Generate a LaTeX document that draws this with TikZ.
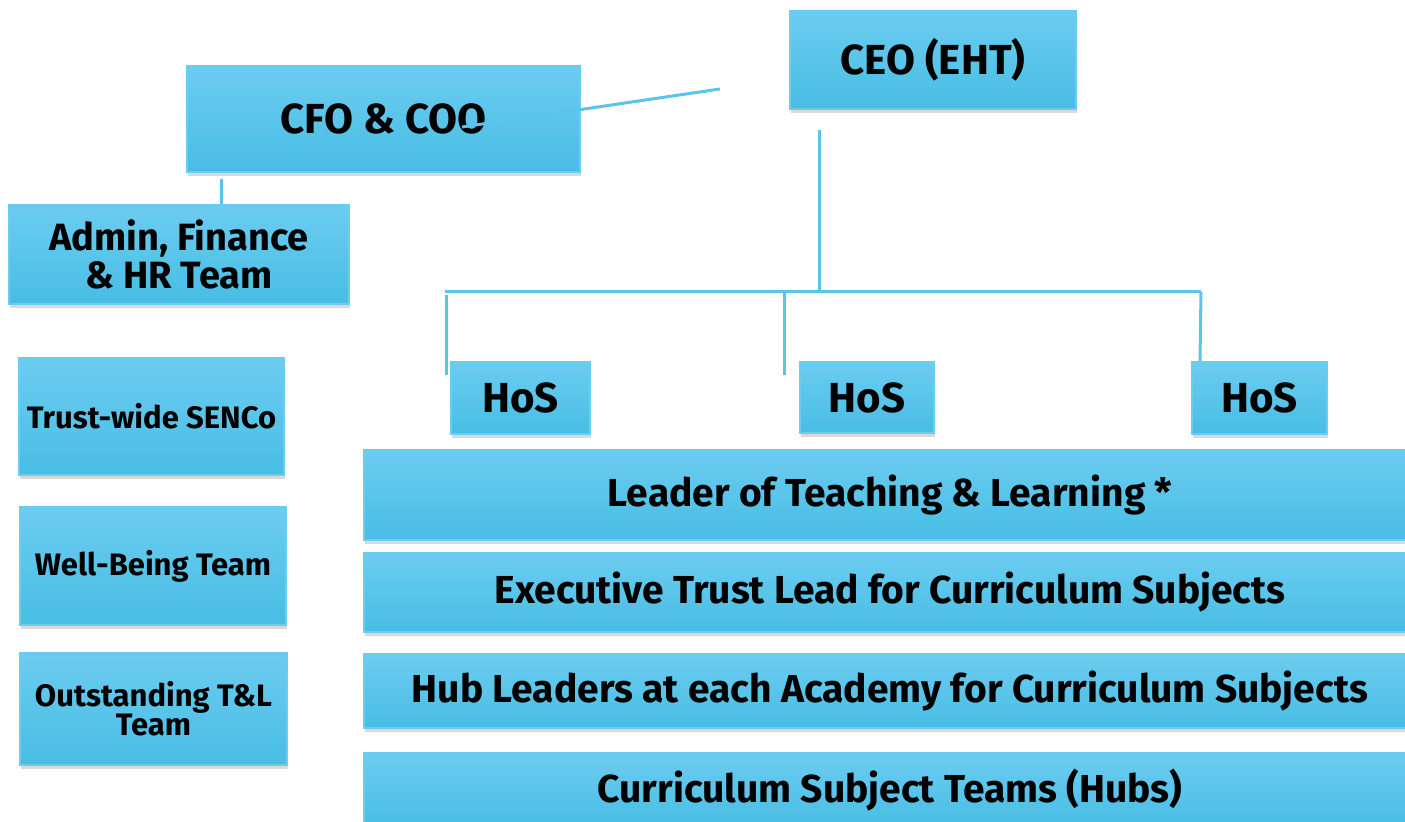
\documentclass[tikz,border=0pt]{standalone}
\usepackage{fontspec}
\setmainfont{Fira Sans}
\usetikzlibrary{shadows}

\definecolor{boxtop}{RGB}{108,204,240}
\definecolor{boxbot}{RGB}{72,189,228}
\definecolor{linkblue}{RGB}{91,196,234}

\tikzset{
  orgbox/.style={top color=boxtop, bottom color=boxbot, draw=boxtop, line width=0.6pt,
    drop shadow={opacity=0.3, shadow xshift=0.6pt, shadow yshift=-1.8pt},
    inner sep=2pt, align=center, font=\bfseries},
  link/.style={draw=linkblue, line width=1.5pt},
  bigtext/.style={font=\bfseries\fontsize{19.5}{22}\selectfont},
  toptext/.style={font=\bfseries\fontsize{21}{24}\selectfont},
  admintext/.style={font=\bfseries\fontsize{19}{19}\selectfont},
  sidetext/.style={font=\bfseries\fontsize{15.5}{14.5}\selectfont}
}

\begin{document}
\begin{tikzpicture}[x=0.5pt, y=-0.5pt]
\useasboundingbox (0,0) rectangle (1405,822);

% top level
\node[orgbox, toptext, minimum width=143pt, minimum height=49pt] (ceo) at (933,60) {CEO (EHT)};
\node[orgbox, toptext, minimum width=196.5pt, minimum height=53pt] (cfo) at (383.5,119) {CFO \& COO};
\node[orgbox, admintext, minimum width=170pt, minimum height=49.5pt] (admin) at (179,254.5) {Admin, Finance\\\& HR Team};

% heads of school
\node[orgbox, toptext, minimum width=69.5pt, minimum height=36pt] (hosA) at (520.5,398) {HoS};
\node[orgbox, toptext, minimum width=67pt, minimum height=35.5pt] (hosB) at (867,397.5) {HoS};
\node[orgbox, toptext, minimum width=67.5pt, minimum height=36pt] (hosC) at (1259.5,398) {HoS};

% side teams
\node[orgbox, sidetext, minimum width=132.5pt, minimum height=58.5pt] (senco) at (151.5,416.5) {Trust-wide SENCo};
\node[orgbox, sidetext, minimum width=133pt, minimum height=59pt] (wellbeing) at (153,566) {Well-Being Team};
\node[orgbox, sidetext, minimum width=133.5pt, minimum height=56pt] (outstanding) at (153.5,709) {Outstanding T\&L\\Team};

% curriculum bars
\node[orgbox, bigtext, minimum width=526pt, minimum height=45pt] (leader) at (890,495) {Leader of Teaching \& Learning *};
\node[orgbox, bigtext, minimum width=526pt, minimum height=39.5pt] (exec) at (890,592.5) {Executive Trust Lead for Curriculum Subjects};
\node[orgbox, bigtext, minimum width=526pt, minimum height=37pt] (hubs) at (890,691) {Hub Leaders at each Academy for Curriculum Subjects};
\node[orgbox, bigtext, minimum width=526pt, minimum height=37.5pt] (teams) at (890,790.5) {Curriculum Subject Teams (Hubs)};

% connectors
\coordinate (cfoend) at (462,127);
\coordinate (ceoleft) at (720,89);
\coordinate (ceodrop) at (819,130);
\coordinate (barL) at (445,292);
\coordinate (barM) at (819,292);
\coordinate (barR) at (1201,292);
\coordinate (dropA) at (446,375);
\coordinate (dropB) at (784,375);
\draw[link] (ceoleft) -- (cfoend);
\draw[link] (cfo.south -| 221,0) ++(0,6) -- (admin.north -| 221,0);
\draw[link] (ceodrop) -- (barM);
\draw[link] (barL) -- (barR);
\draw[link] (barL) ++(1,3) -- (dropA);
\draw[link] (784,292) -- (dropB);
\draw[link] (barR) -- (hosC.north -| 1200,0);
\end{tikzpicture}
\end{document}
